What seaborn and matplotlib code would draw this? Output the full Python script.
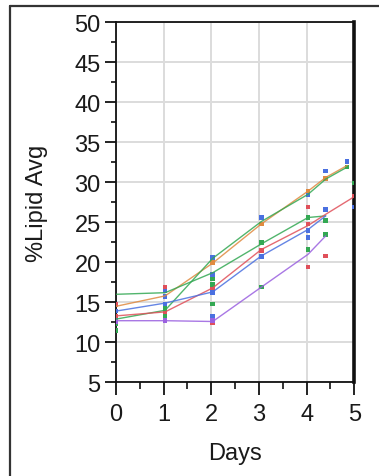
import matplotlib
matplotlib.use("Agg")
import matplotlib.pyplot as plt
from matplotlib.lines import Line2D
from matplotlib.ticker import MultipleLocator
import numpy as np
import pandas as pd
import seaborn as sns

# ---- fitted mean lines per group ----
orange_line_days = [0, 1.03, 2.03, 3.05, 4.03, 4.4, 4.85]
orange_line_pct = [14.5, 15.8, 19.9, 24.8, 28.9, 30.6, 32.1]

green_a_line_days = [0, 1.03, 2.03, 3.05, 4.03, 4.4]
green_a_line_pct = [16.0, 16.2, 18.7, 22.3, 25.6, 25.8]

green_b_line_days = [0, 1.03, 2.03, 3.05, 4.03, 4.4, 4.85]
green_b_line_pct = [12.9, 14.0, 20.5, 25.1, 28.5, 30.4, 31.9]

red_line_days = [0, 1.03, 2.03, 3.05, 4.03, 4.4, 5.0]
red_line_pct = [13.3, 13.8, 16.8, 21.6, 24.6, 26.0, 28.2]

blue_line_days = [0, 1.03, 2.03, 3.05, 4.03, 4.4]
blue_line_pct = [13.9, 14.9, 16.3, 20.8, 24.1, 25.8]

purple_line_days = [0, 1.03, 2.03, 3.05, 4.03, 4.4]
purple_line_pct = [12.7, 12.7, 12.6, 16.9, 21.0, 23.3]

# ---- individual measurements ----
red_pts_days = [0, 0, 1.03, 1.03, 1.03, 2.03, 2.03, 2.03, 3.05, 4.03, 4.03, 4.03, 4.4, 5.0]
red_pts_pct = [14.7, 13.3, 16.9, 16.4, 13.7, 20.0, 16.8, 12.4, 21.5, 26.9, 24.8, 19.4, 20.8, 28.3]

blue_pts_days = [0, 0, 1.03, 1.03, 1.03, 2.03, 2.03, 2.03, 2.03, 3.05, 3.05,
                 4.03, 4.03, 4.03, 4.4, 4.4, 4.85, 5.0]
blue_pts_pct = [13.9, 12.8, 16.4, 15.7, 14.8, 20.6, 18.5, 16.2, 13.3, 25.6, 20.7,
                28.4, 24.0, 23.1, 31.4, 26.6, 32.6, 26.9]

green_pts_days = [0, 0, 1.03, 1.03, 1.03, 2.03, 2.03, 2.03, 3.05, 3.05,
                  4.03, 4.03, 4.4, 4.4, 4.85, 5.0]
green_pts_pct = [12.3, 11.5, 14.2, 13.3, 12.7, 17.9, 17.2, 14.8, 22.5, 16.9,
                 25.6, 21.6, 25.2, 23.5, 31.9, 29.9]

orange_pts_days = [2.03, 3.05, 4.03, 4.4]
orange_pts_pct = [20.0, 24.8, 28.9, 30.5]

purple_pts_days = [0, 1.03, 2.03]
purple_pts_pct = [12.6, 12.7, 12.7]

colors = {
    "red": "#e0505a",
    "blue": "#4a70e0",
    "green": "#33a853",
    "orange": "#e08a40",
    "purple": "#9a60e0",
}

lines = [
    ("orange", "orange", orange_line_days, orange_line_pct),
    ("green_a", "green", green_a_line_days, green_a_line_pct),
    ("green_b", "green", green_b_line_days, green_b_line_pct),
    ("red", "red", red_line_days, red_line_pct),
    ("blue", "blue", blue_line_days, blue_line_pct),
    ("purple", "purple", purple_line_days, purple_line_pct),
]
line_df = pd.concat(
    [pd.DataFrame({"series": name, "Days": d, "pct": p}) for name, _, d, p in lines],
    ignore_index=True,
)
line_palette = {name: colors[c] for name, c, _, _ in lines}

points = [
    ("red", red_pts_days, red_pts_pct),
    ("blue", blue_pts_days, blue_pts_pct),
    ("green", green_pts_days, green_pts_pct),
    ("orange", orange_pts_days, orange_pts_pct),
    ("purple", purple_pts_days, purple_pts_pct),
]
pts_df = pd.concat(
    [pd.DataFrame({"group": g, "Days": d, "pct": p}) for g, d, p in points],
    ignore_index=True,
)

sns.set_style("white")
plt.rcParams["font.family"] = ["Liberation Sans", "DejaVu Sans"]
text_color = "#1a1a1a"

fig = plt.figure(figsize=(3.79, 4.77), dpi=100)
ax = fig.add_axes([116 / 379, 1 - 383.3 / 477, (354.3 - 116) / 379, (383.3 - 23.3) / 477])

sns.scatterplot(data=pts_df, x="Days", y="pct", hue="group", palette=colors,
                marker="s", s=11, linewidth=0, legend=False, ax=ax, zorder=3)
sns.lineplot(data=line_df, x="Days", y="pct", hue="series", palette=line_palette,
             estimator=None, sort=False, linewidth=1.0, alpha=0.85,
             legend=False, ax=ax, zorder=4)

ax.set_xlim(0, 5)
ax.set_ylim(5, 50)
ax.xaxis.set_major_locator(MultipleLocator(1))
ax.xaxis.set_minor_locator(MultipleLocator(0.5))
ax.yaxis.set_major_locator(MultipleLocator(5))
ax.yaxis.set_minor_locator(MultipleLocator(2.5))

ax.grid(True, which="major", color="#dcdcdc", linewidth=1.4, zorder=0)
ax.set_axisbelow(True)

ax.tick_params(axis="both", which="major", direction="out", color="#111111",
               width=1.3, labelsize=17, labelcolor=text_color)
ax.tick_params(axis="y", which="major", length=8, pad=3)
ax.tick_params(axis="x", which="major", length=9, pad=6)
ax.tick_params(axis="y", which="minor", direction="out", length=3.5, width=1.2, color="#111111")
ax.tick_params(axis="x", which="minor", direction="out", length=5, width=1.2, color="#111111")
ax.tick_params(left=True, bottom=True, which="both")

for side in ["left", "bottom", "top"]:
    ax.spines[side].set_visible(True)
    ax.spines[side].set_color("#111111")
    ax.spines[side].set_linewidth(1.3)
ax.spines["right"].set_visible(True)
ax.spines["right"].set_color("#111111")
ax.spines["right"].set_linewidth(2.6)

ax.set_xlabel("Days", fontsize=17, color=text_color, labelpad=12)
ax.set_ylabel("%Lipid Avg", fontsize=17, color=text_color, labelpad=19)

# report frame around the plot
fx0 = 10 / 379
fy0 = 1 - 7 / 477
fig.add_artist(Line2D([fx0, fx0], [0, fy0], transform=fig.transFigure,
                      color="#333333", linewidth=1.6))
fig.add_artist(Line2D([fx0, 1], [fy0, fy0], transform=fig.transFigure,
                      color="#333333", linewidth=1.6))

fig.savefig("out.png", dpi=100)
